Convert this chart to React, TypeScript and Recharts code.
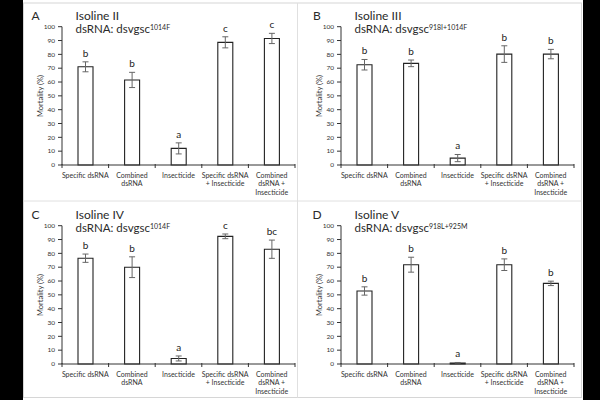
import { Bar, BarChart, ErrorBar, LabelList, XAxis, YAxis } from "recharts";

const treatments = [
  "Specific dsRNA",
  "Combined dsRNA",
  "Insecticide",
  "Specific dsRNA + Insecticide",
  "Combined dsRNA + Insecticide",
];
const treatmentLines = [
  ["Specific dsRNA"],
  ["Combined", "dsRNA"],
  ["Insecticide"],
  ["Specific dsRNA", "+ Insecticide"],
  ["Combined", "dsRNA +", "Insecticide"],
];
const mortalityTicks = [0, 10, 20, 30, 40, 50, 60, 70, 80, 90, 100];

// Isoline II, dsRNA dsvgsc 1014F
const isoIIMean = [71, 61.5, 12, 88.7, 91.5];
const isoIISem = [3.6, 5.5, 4, 4, 3.7];
const isoIIGroups = ["b", "b", "a", "c", "c"];

// Isoline III, dsRNA dsvgsc 918I+1014F
const isoIIIMean = [72.5, 73.5, 5, 80.2, 80.2];
const isoIIISem = [3.8, 2.4, 2.6, 6, 3.4];
const isoIIIGroups = ["b", "b", "a", "b", "b"];

// Isoline IV, dsRNA dsvgsc 1014F
const isoIVMean = [76.5, 70, 4, 92.3, 83];
const isoIVSem = [3, 7.5, 1.8, 1.7, 6.6];
const isoIVGroups = ["b", "b", "a", "c", "bc"];

// Isoline V, dsRNA dsvgsc 918L+925M
const isoVMean = [52.8, 71.8, 0.7, 71.8, 58.3];
const isoVSem = [3, 5.4, 0.4, 4.2, 1.6];
const isoVGroups = ["b", "b", "a", "b", "b"];

const FONT = "Lato, 'Open Sans', sans-serif";
const W = 274;
const H = 198;

function TreatmentTick(props: any) {
  const { x, y, payload } = props;
  const lines = treatmentLines[payload.index] ?? [payload.value];
  const half = payload.offset || 23.3;
  return (
    <g>
      <line x1={x - half} x2={x - half} y1={y - 1} y2={y + 3} stroke="#333" />
      {payload.index === treatments.length - 1 && (
        <line x1={x + half} x2={x + half} y1={y - 1} y2={y + 3} stroke="#333" />
      )}
      {lines.map((line: string, i: number) => (
        <text
          key={line}
          x={x}
          y={y + 12.5 + i * 8.8}
          textAnchor="middle"
          fontSize={7}
          fontFamily={FONT}
          fill="#333"
        >
          {line}
        </text>
      ))}
    </g>
  );
}

function Panel(props: {
  tag: string;
  isoline: string;
  allele: string;
  mean: number[];
  sem: number[];
  groups: string[];
  left: number;
  top: number;
  tagX: number;
}) {
  const { tag, isoline, allele, mean, sem, groups, left, top, tagX } = props;
  const data = treatments.map((t, i) => ({
    treatment: t,
    mortality: mean[i],
    sem: sem[i],
    group: groups[i],
  }));

  // significance letter sits a little above the top of the error bar
  const GroupLetter = (p: any) => {
    const { x, y, width, height, value, index } = p;
    const errPx = mean[index] > 0 ? (height * sem[index]) / mean[index] : 0;
    return (
      <text
        x={x + width / 2}
        y={y - errPx - 9}
        textAnchor="middle"
        dominantBaseline="central"
        fontSize={10}
        fontFamily={FONT}
        fill="#222"
      >
        {value}
      </text>
    );
  };

  return (
    <div style={{ position: "absolute", left, top, width: W, height: H }}>
      <BarChart
        width={W}
        height={H}
        data={data}
        margin={{ top: 23.7, right: 2, bottom: 0, left: 0 }}
      >
        <XAxis
          dataKey="treatment"
          height={36}
          interval={0}
          tickLine={false}
          tickSize={0}
          tickMargin={0}
          axisLine={{ stroke: "#333" }}
          tick={<TreatmentTick />}
        />
        <YAxis
          domain={[0, 100]}
          ticks={mortalityTicks}
          width={39}
          tickSize={4}
          tickMargin={3}
          axisLine={{ stroke: "#333" }}
          tickLine={{ stroke: "#333" }}
          tick={{ fontSize: 6.5, fill: "#333", fontFamily: FONT }}
        />
        <Bar
          dataKey="mortality"
          barSize={15}
          fill="#fff"
          stroke="#222"
          strokeWidth={1.1}
          isAnimationActive={false}
        >
          <ErrorBar dataKey="sem" width={3} stroke="#666" strokeWidth={1} />
          <LabelList dataKey="group" content={GroupLetter} />
        </Bar>
      </BarChart>
      <svg
        width={W}
        height={H}
        style={{ position: "absolute", left: 0, top: 0, pointerEvents: "none" }}
      >
        <text x={tagX} y={17} fontSize={12} fontFamily={FONT} fill="#2a2a2a">
          {tag}
        </text>
        <text x={52.5} y={17} fontSize={12} fontFamily={FONT} fill="#2a2a2a">
          {isoline}
        </text>
        <text x={52.5} y={30} fontSize={11.5} fontFamily={FONT} fill="#2a2a2a">
          dsRNA: dsvgsc
          <tspan dy={-3.5} fontSize={7}>
            {allele}
          </tspan>
        </text>
        <text
          transform={`translate(17, 93) rotate(-90)`}
          textAnchor="middle"
          dominantBaseline="central"
          fontSize={7.5}
          fontFamily={FONT}
          fill="#333"
        >
          Mortality (%)
        </text>
      </svg>
    </div>
  );
}

export default function App() {
  return (
    <div
      style={{
        position: "fixed",
        left: 0,
        top: 0,
        width: 600,
        height: 400,
        background: "#000",
        overflow: "hidden",
      }}
    >
      <div
        style={{
          position: "absolute",
          left: 22.5,
          top: 0,
          width: 560,
          height: 400,
          background: "#fff",
        }}
      />
      <svg
        width={600}
        height={400}
        style={{ position: "absolute", left: 0, top: 0 }}
      >
        <rect x={23.5} y={3} width={558} height={394.5} fill="none" stroke="#d6d6d6" />
        <line x1={297.5} x2={297.5} y1={3} y2={397.5} stroke="#e0e0e0" />
        <line x1={23.5} x2={581.5} y1={201} y2={201} stroke="#e0e0e0" />
      </svg>
      <Panel
        tag="A"
        isoline="Isoline II"
        allele="1014F"
        mean={isoIIMean}
        sem={isoIISem}
        groups={isoIIGroups}
        left={23}
        top={3}
        tagX={8.5}
      />
      <Panel
        tag="B"
        isoline="Isoline III"
        allele="918I+1014F"
        mean={isoIIIMean}
        sem={isoIIISem}
        groups={isoIIIGroups}
        left={302}
        top={3}
        tagX={11}
      />
      <Panel
        tag="C"
        isoline="Isoline IV"
        allele="1014F"
        mean={isoIVMean}
        sem={isoIVSem}
        groups={isoIVGroups}
        left={23}
        top={201.5}
        tagX={8.5}
      />
      <Panel
        tag="D"
        isoline="Isoline V"
        allele="918L+925M"
        mean={isoVMean}
        sem={isoVSem}
        groups={isoVGroups}
        left={302}
        top={201.5}
        tagX={10.5}
      />
    </div>
  );
}
